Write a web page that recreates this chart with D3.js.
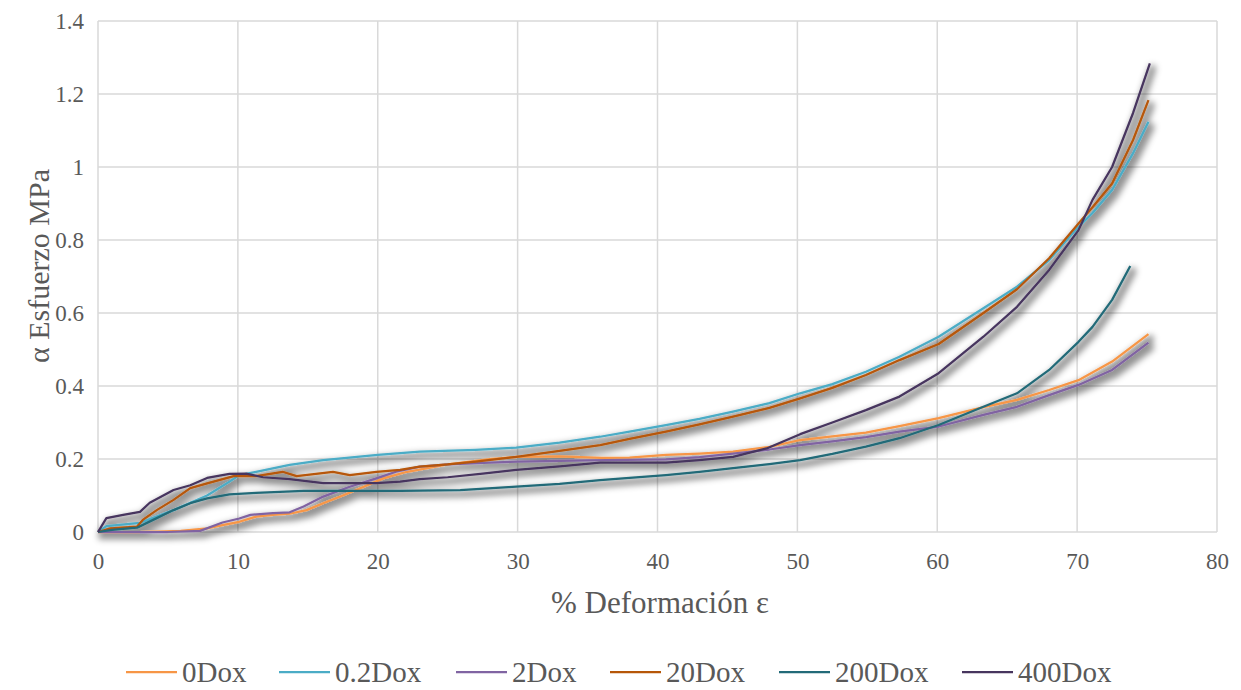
<!DOCTYPE html>
<html>
<head>
<meta charset="utf-8">
<script src="https://cdn.jsdelivr.net/npm/d3@7"></script>
<style>
  body { margin: 0; background: #fff; }
  svg { display: block; }
  text { font-family: "Liberation Serif", "Times New Roman", serif; fill: #595959; }
</style>
</head>
<body>
<svg id="chart" width="1241" height="690"></svg>
<script>
// series names and colours
var names = ["0Dox", "0.2Dox", "2Dox", "20Dox", "200Dox", "400Dox"];
var colors = ["#F79646", "#4BACC6", "#8064A2", "#B65708", "#226A78", "#47355E"];

// values (x = % deformación, y = esfuerzo MPa)
var x0Dox = [0, 3, 5.9, 7.8, 8.9, 10.1, 11.3, 12.5, 13.7, 14.9, 16.1, 17.5, 19, 20.4, 22.1, 25, 28, 30, 33, 36, 38, 40.6, 43, 45.4, 48, 50.2, 52.5, 54.9, 57.3, 60.1, 63.3, 65.7, 68, 70.1, 72.5, 75.1];
var y0Dox = [0, 0, 0.003, 0.01, 0.019, 0.028, 0.042, 0.047, 0.05, 0.06, 0.079, 0.1, 0.124, 0.147, 0.165, 0.185, 0.2, 0.206, 0.207, 0.203, 0.204, 0.211, 0.215, 0.22, 0.233, 0.252, 0.262, 0.272, 0.29, 0.312, 0.342, 0.362, 0.389, 0.416, 0.467, 0.542];

var x02Dox = [0, 0.6, 3, 5.4, 7.8, 9.4, 10.1, 11.3, 13.7, 16.1, 20, 23, 27, 29.9, 33, 35.9, 38, 40.6, 43, 45.4, 48, 50.2, 52.5, 54.9, 57.3, 60.1, 63.3, 65.7, 68, 70.1, 71.1, 72.5, 74, 75.1];
var y02Dox = [0, 0.016, 0.025, 0.06, 0.1, 0.138, 0.156, 0.165, 0.184, 0.197, 0.211, 0.22, 0.225, 0.231, 0.245, 0.261, 0.275, 0.293, 0.31, 0.33, 0.353, 0.38, 0.405, 0.439, 0.48, 0.535, 0.613, 0.672, 0.745, 0.836, 0.874, 0.937, 1.038, 1.124];

var x2Dox = [0, 5, 7.3, 8.9, 10.1, 10.9, 12.5, 13.7, 14.7, 16.1, 18, 19.9, 21.3, 23, 25, 28, 30, 35, 40.6, 43, 45.4, 48, 50.2, 52.5, 54.9, 57.3, 60.1, 63.3, 65.7, 68, 70.1, 72.5, 75.1];
var y2Dox = [0, 0, 0.003, 0.026, 0.037, 0.047, 0.052, 0.054, 0.07, 0.097, 0.124, 0.147, 0.165, 0.179, 0.185, 0.19, 0.193, 0.196, 0.199, 0.205, 0.215, 0.226, 0.238, 0.248, 0.26, 0.275, 0.289, 0.321, 0.343, 0.375, 0.403, 0.444, 0.519];

var x20Dox = [0, 0.9, 2.8, 3.2, 4.2, 5.4, 6.6, 7.8, 9.7, 11.3, 13.2, 14.2, 16.8, 18, 19.9, 21.6, 23, 25, 27, 29.9, 33, 35.9, 38, 40.6, 43, 45.4, 48, 50.2, 52.5, 54.9, 57.3, 60.1, 63.3, 65.7, 68, 70.1, 71.1, 72.5, 74, 75.1];
var y20Dox = [0, 0.01, 0.015, 0.033, 0.06, 0.088, 0.12, 0.133, 0.153, 0.153, 0.165, 0.153, 0.165, 0.156, 0.165, 0.17, 0.179, 0.185, 0.193, 0.206, 0.222, 0.238, 0.255, 0.275, 0.295, 0.316, 0.34, 0.366, 0.395, 0.43, 0.471, 0.515, 0.6, 0.665, 0.75, 0.845, 0.89, 0.955, 1.074, 1.183];

var x200Dox = [0, 1, 2.8, 4.2, 5.4, 6.6, 7.8, 9.4, 11.3, 14.7, 18, 21.6, 25.9, 29.9, 33, 35.9, 38, 40.6, 43, 45.4, 48, 50.2, 52.5, 54.9, 57.3, 60.1, 63.3, 65.7, 68, 70.1, 71.1, 72.5, 73.8];
var y200Dox = [0, 0.006, 0.012, 0.038, 0.06, 0.079, 0.092, 0.103, 0.107, 0.113, 0.113, 0.113, 0.115, 0.124, 0.132, 0.142, 0.148, 0.156, 0.165, 0.175, 0.186, 0.197, 0.214, 0.234, 0.257, 0.293, 0.343, 0.38, 0.444, 0.521, 0.562, 0.636, 0.729];

var x400Dox = [0, 0.6, 1.8, 3, 3.7, 5.4, 6.6, 7.8, 9.4, 10.6, 11.8, 13.7, 16.1, 19.9, 21.6, 23, 25, 27.5, 29.9, 33, 35.9, 38, 40.6, 43, 45.4, 47.8, 50.2, 52.5, 54.9, 57.3, 60.1, 63.3, 65.7, 68, 70.1, 71.1, 72.5, 74, 75.2];
var y400Dox = [0, 0.038, 0.047, 0.055, 0.08, 0.115, 0.128, 0.148, 0.159, 0.16, 0.15, 0.145, 0.134, 0.134, 0.138, 0.145, 0.15, 0.16, 0.17, 0.18, 0.19, 0.19, 0.19, 0.197, 0.206, 0.229, 0.268, 0.3, 0.334, 0.371, 0.435, 0.535, 0.617, 0.718, 0.827, 0.91, 1.0, 1.148, 1.284];

var xTicks = [0, 10, 20, 30, 40, 50, 60, 70, 80];
var yTicks = [0, 0.2, 0.4, 0.6, 0.8, 1, 1.2, 1.4];

var xs = [x0Dox, x02Dox, x2Dox, x20Dox, x200Dox, x400Dox];
var ys = [y0Dox, y02Dox, y2Dox, y20Dox, y200Dox, y400Dox];
var series = names.map(function(n, i) {
  return { name: n, color: colors[i], pts: xs[i].map(function(x, j) { return [x, ys[i][j]]; }) };
});

var svg = d3.select("#chart");
var plotL = 98, plotR = 1217, plotT = 21, plotB = 532;

var x = d3.scaleLinear().domain([0, 80]).range([plotL, plotR]);
var y = d3.scaleLinear().domain([0, 1.4]).range([plotB, plotT]);

// grey outer shadow under the lines, like Excel's
var defs = svg.append("defs");
var f = defs.append("filter").attr("id", "shadow")
  .attr("filterUnits", "userSpaceOnUse")
  .attr("x", 0).attr("y", 0).attr("width", 1241).attr("height", 690);
f.append("feMorphology").attr("in", "SourceAlpha").attr("operator", "dilate").attr("radius", 1.5).attr("result", "d");
f.append("feGaussianBlur").attr("in", "d").attr("stdDeviation", 3).attr("result", "b");
f.append("feOffset").attr("in", "b").attr("dx", 3).attr("dy", 4).attr("result", "o");
f.append("feFlood").attr("flood-color", "#000").attr("flood-opacity", 0.42);
f.append("feComposite").attr("in2", "o").attr("operator", "in").attr("result", "s");
var m = f.append("feMerge");
m.append("feMergeNode").attr("in", "s");
m.append("feMergeNode").attr("in", "SourceGraphic");

// gridlines
svg.append("g")
  .selectAll("line")
  .data(yTicks)
  .enter().append("line")
  .attr("x1", plotL).attr("x2", plotR)
  .attr("y1", function(d) { return y(d); })
  .attr("y2", function(d) { return y(d); })
  .attr("stroke", "#d9d9d9").attr("stroke-width", 1.5);

svg.append("g")
  .selectAll("line")
  .data(xTicks)
  .enter().append("line")
  .attr("y1", plotT).attr("y2", plotB)
  .attr("x1", function(d) { return x(d); })
  .attr("x2", function(d) { return x(d); })
  .attr("stroke", "#d9d9d9").attr("stroke-width", 1.5);

// axes (labels only, Excel style)
var xAxis = svg.append("g").attr("transform", "translate(0," + plotB + ")")
  .call(d3.axisBottom(x).tickValues(xTicks).tickSize(0).tickPadding(21).tickFormat(d3.format("d")));
xAxis.select(".domain").remove();
xAxis.selectAll("text").style("font-size", "23px").style("font-family", "Liberation Serif").attr("fill", "#595959");

var yAxis = svg.append("g").attr("transform", "translate(" + plotL + ",0)")
  .call(d3.axisLeft(y).tickValues(yTicks).tickSize(0).tickPadding(14).tickFormat(function(d) { return String(+d.toFixed(1)); }));
yAxis.select(".domain").remove();
yAxis.selectAll("text").style("font-size", "23px").style("font-family", "Liberation Serif").attr("fill", "#595959");

// lines
var line = d3.line()
  .x(function(d) { return x(d[0]); })
  .y(function(d) { return y(d[1]); });

svg.append("g").attr("filter", "url(#shadow)")
  .selectAll("path")
  .data(series)
  .enter().append("path")
  .attr("d", function(d) { return line(d.pts); })
  .attr("fill", "none")
  .attr("stroke", function(d) { return d.color; })
  .attr("stroke-width", 2.25)
  .attr("stroke-linejoin", "round");

// titles
svg.append("text")
  .attr("x", 660).attr("y", 613)
  .attr("text-anchor", "middle")
  .style("font-size", "31px")
  .text("% Deformación ε");

svg.append("text")
  .attr("transform", "translate(49,266) rotate(-90)")
  .attr("text-anchor", "middle")
  .style("font-size", "30px")
  .text("α Esfuerzo MPa");

// legend
var legX = [126, 279, 456, 610, 779, 962];
var legY = 672;
var leg = svg.append("g")
  .selectAll("g")
  .data(series)
  .enter().append("g")
  .attr("transform", function(d, i) { return "translate(" + legX[i] + "," + legY + ")"; });
leg.append("line")
  .attr("x1", 0).attr("x2", 51)
  .attr("stroke", function(d) { return d.color; })
  .attr("stroke-width", 2.25);
leg.append("text")
  .attr("x", 56).attr("y", 10)
  .style("font-size", "29px")
  .text(function(d) { return d.name; });
</script>
</body>
</html>
